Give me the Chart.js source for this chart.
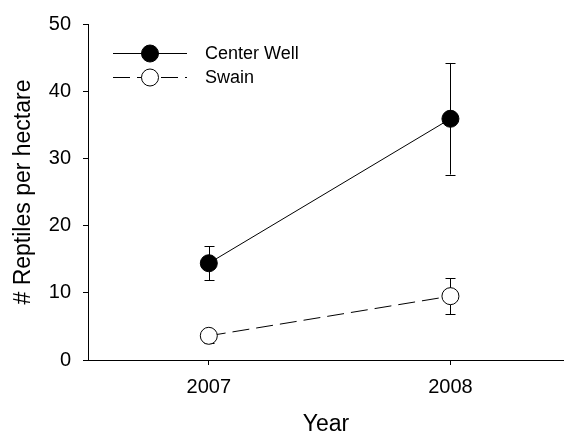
<!DOCTYPE html>
<html>
<head>
<meta charset="utf-8">
<title>Reptiles per hectare</title>
<script src="https://cdn.jsdelivr.net/npm/chart.js@4/dist/chart.umd.min.js"></script>
<style>
    html, body { margin: 0; padding: 0; background: #fff; }
    #chart-wrap { width: 564px; height: 436px; }
</style>
</head>
<body>
<div id="chart-wrap"><canvas id="reptileChart" width="564" height="436"></canvas></div>
<script>
// Data
const years = [2007, 2008];
const yTicks = [0, 10, 20, 30, 40, 50];
const centerWell = [14.4, 35.9];
const centerWellErr = [2.5, 8.3];
const swain = [3.6, 9.5];
const swainErr = [1.0, 2.7];

const FONT = '"Liberation Sans", Arial, Helvetica, sans-serif';

document.addEventListener('DOMContentLoaded', function() {
    initReptileChart();
});

function toPoints(values) {
    return years.map((year, i) => ({ x: year, y: values[i] }));
}

// Error bars, drawn under the markers
const errorBars = {
    id: 'errorBars',
    beforeDatasetsDraw(chart) {
        const ctx = chart.ctx;
        const xs = chart.scales.x;
        const ys = chart.scales.y;
        ctx.save();
        ctx.strokeStyle = '#000';
        ctx.lineWidth = 1;
        chart.data.datasets.forEach(ds => {
            ds.data.forEach((pt, i) => {
                const err = ds.errors[i];
                const x = Math.round(xs.getPixelForValue(pt.x)) + 0.5;
                const top = ys.getPixelForValue(pt.y + err);
                const bottom = ys.getPixelForValue(pt.y - err);
                ctx.beginPath();
                ctx.moveTo(x, top);
                ctx.lineTo(x, bottom);
                ctx.moveTo(x - 5, Math.round(top) + 0.5);
                ctx.lineTo(x + 5, Math.round(top) + 0.5);
                ctx.moveTo(x - 5, Math.round(bottom) + 0.5);
                ctx.lineTo(x + 5, Math.round(bottom) + 0.5);
                ctx.stroke();
            });
        });
        ctx.restore();
    }
};

// Legend in the SigmaPlot style: line running through the marker
const insideLegend = {
    id: 'insideLegend',
    afterDraw(chart) {
        const ctx = chart.ctx;
        ctx.save();
        chart.data.datasets.forEach((ds, i) => {
            const y = 53 + i * 24;
            ctx.strokeStyle = '#000';
            ctx.lineWidth = 1;
            ctx.setLineDash(ds.borderDash || []);
            ctx.beginPath();
            ctx.moveTo(113, y + 0.5);
            ctx.lineTo(187, y + 0.5);
            ctx.stroke();
            ctx.setLineDash([]);
            ctx.beginPath();
            ctx.arc(150, y + 0.5, ds.pointRadius, 0, Math.PI * 2);
            ctx.fillStyle = ds.pointBackgroundColor;
            ctx.fill();
            ctx.stroke();
            ctx.fillStyle = '#000';
            ctx.font = '18px ' + FONT;
            ctx.textBaseline = 'middle';
            ctx.fillText(ds.label, 205, y + 1);
        });
        ctx.restore();
    }
};

function initReptileChart() {
    const ctx = document.getElementById('reptileChart');
    if (!ctx) return;

    new Chart(ctx, {
        type: 'line',
        data: {
            datasets: [{
                label: 'Center Well',
                data: toPoints(centerWell),
                errors: centerWellErr,
                borderColor: '#000',
                borderWidth: 1,
                pointRadius: 8.5,
                pointBackgroundColor: '#000',
                pointBorderColor: '#000',
                pointBorderWidth: 1
            }, {
                label: 'Swain',
                data: toPoints(swain),
                errors: swainErr,
                borderColor: '#000',
                borderWidth: 1,
                borderDash: [17, 7],
                pointRadius: 8.5,
                pointBackgroundColor: '#fff',
                pointBorderColor: '#000',
                pointBorderWidth: 1
            }]
        },
        options: {
            responsive: false,
            animation: false,
            devicePixelRatio: 1,
            layout: {
                autoPadding: false,
                padding: { left: 8, top: 21, right: 0, bottom: 0 }
            },
            plugins: {
                legend: { display: false },
                tooltip: { enabled: false }
            },
            scales: {
                x: {
                    type: 'linear',
                    min: 2006.5,
                    max: 2008.47,
                    afterBuildTicks: function(scale) {
                        scale.ticks = years.map(v => ({ value: v }));
                    },
                    afterFit: function(scale) {
                        scale.height = 76;
                    },
                    grid: {
                        drawOnChartArea: false,
                        drawTicks: true,
                        tickLength: 5,
                        tickColor: '#000'
                    },
                    border: { color: '#000', width: 1 },
                    ticks: {
                        color: '#000',
                        padding: 10,
                        font: { family: FONT, size: 20 },
                        callback: v => String(v)
                    },
                    title: {
                        display: true,
                        text: 'Year',
                        color: '#000',
                        padding: { top: 0, bottom: 0 },
                        font: { family: FONT, size: 23, lineHeight: 1 }
                    }
                },
                y: {
                    min: 0,
                    max: 50,
                    afterBuildTicks: function(scale) {
                        scale.ticks = yTicks.map(v => ({ value: v }));
                    },
                    afterFit: function(scale) {
                        scale.width = 80;
                    },
                    grid: {
                        drawOnChartArea: false,
                        drawTicks: true,
                        tickLength: 5,
                        tickColor: '#000'
                    },
                    border: { color: '#000', width: 1 },
                    ticks: {
                        color: '#000',
                        padding: 12,
                        font: { family: FONT, size: 20 }
                    },
                    title: {
                        display: true,
                        text: '# Reptiles per hectare',
                        color: '#000',
                        padding: { top: 4, bottom: 0 },
                        font: { family: FONT, size: 23, lineHeight: 1 }
                    }
                }
            }
        },
        plugins: [errorBars, insideLegend]
    });
}
</script>
</body>
</html>
